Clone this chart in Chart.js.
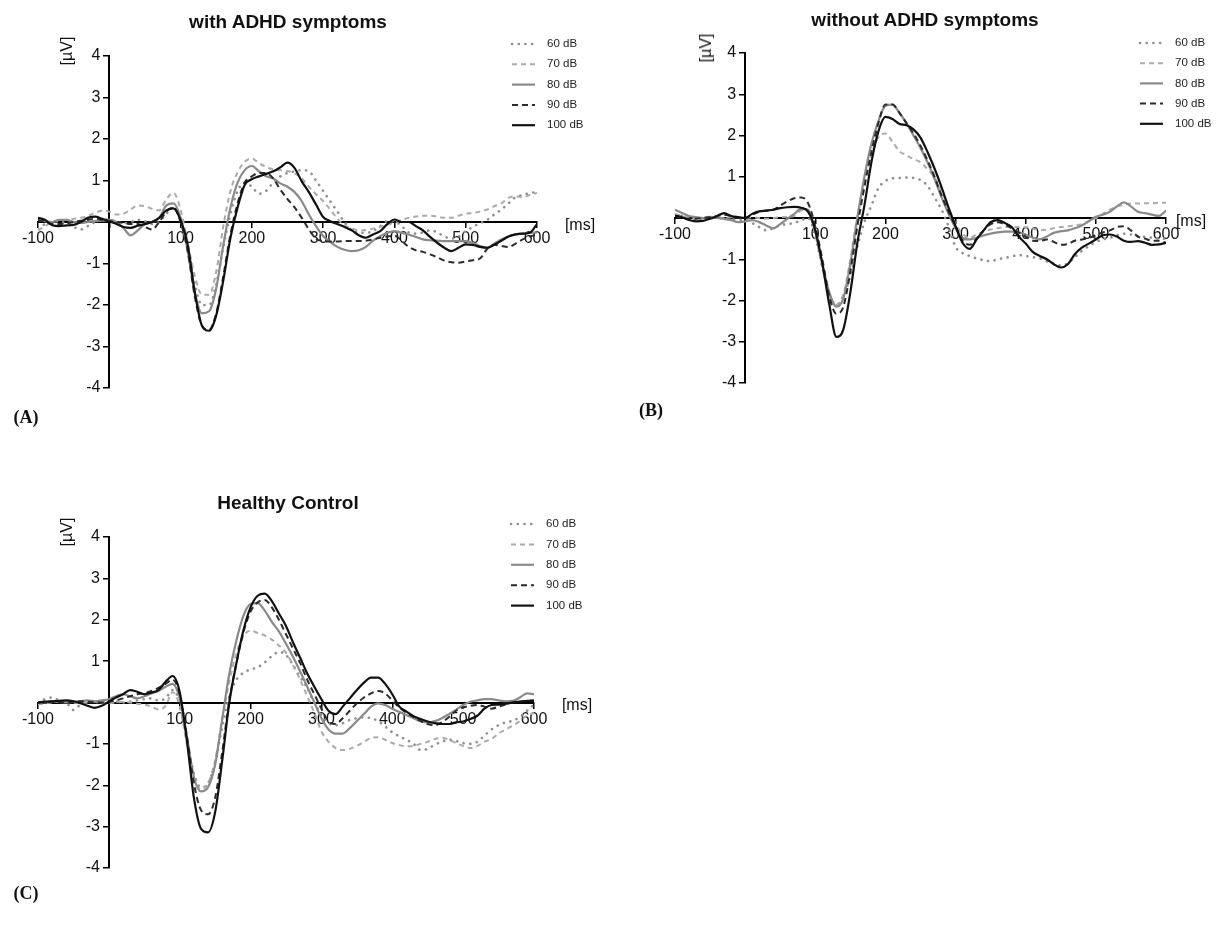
<!DOCTYPE html>
<html>
<head>
<meta charset="utf-8">
<script src="https://cdn.jsdelivr.net/npm/chart.js@4.4.1/dist/chart.umd.min.js"></script>
<style>
  html, body { margin: 0; padding: 0; background: #fff; }
  #page { position: relative; width: 1230px; height: 932px; overflow: hidden; font-family: "Liberation Sans", Arial, sans-serif; color: #111; }
  canvas { position: absolute; }
  .txt { position: absolute; transform: translate(-50%, -50%); white-space: nowrap; }
  .title { font-weight: bold; font-size: 19px; }
  .unit { font-size: 16px; }
  .uv { font-size: 16px; transform: translate(-50%, -50%) rotate(-90deg); }
  .panel { font-family: "Liberation Serif", "Times New Roman", serif; font-weight: bold; font-size: 18px; }
</style>
</head>
<body>
<div id="page">
  <canvas id="chartA" width="615" height="440" style="left:0;top:0"></canvas>
  <canvas id="chartB" width="615" height="440" style="left:615px;top:0"></canvas>
  <canvas id="chartC" width="615" height="440" style="left:0;top:470px"></canvas>

  <div class="txt title" style="left:288px;top:22px">with ADHD symptoms</div>
  <div class="txt title" style="left:925px;top:20px">without ADHD symptoms</div>
  <div class="txt title" style="left:288px;top:503px">Healthy Control</div>

  <div class="txt uv" style="left:67px;top:51px">[µV]</div>
  <div class="txt uv" style="left:706px;top:48px">[µV]</div>
  <div class="txt uv" style="left:67px;top:532px">[µV]</div>

  <div class="txt unit" style="left:580px;top:225px">[ms]</div>
  <div class="txt unit" style="left:1191px;top:221px">[ms]</div>
  <div class="txt unit" style="left:577px;top:705px">[ms]</div>

  <div class="txt panel" style="left:26px;top:417px">(A)</div>
  <div class="txt panel" style="left:651px;top:410px">(B)</div>
  <div class="txt panel" style="left:26px;top:893px">(C)</div>
</div>

<script>
// =============================================================================
// Data (µV), sampled every 10 ms from -100 to 600 ms
// =============================================================================

const times = [];
for (let t = -100; t <= 600; t += 10) times.push(t);

const levels = ['60 dB', '70 dB', '80 dB', '90 dB', '100 dB'];

// (A) with ADHD symptoms
const adhd60 = [-0.15,-0.05,0.0,0.02,-0.05,-0.12,-0.18,-0.1,0.0,0.06,
  0.05,0.0,-0.03,0.0,0.05,0.02,-0.05,0.0,0.2,0.35,
  0.05,-0.6,-1.5,-2.0,-2.0,-1.5,-0.6,0.2,0.75,0.95,
  0.85,0.68,0.75,0.95,1.1,1.18,1.22,1.25,1.22,1.0,
  0.75,0.5,0.25,0.0,-0.2,-0.25,-0.26,-0.22,-0.1,0.02,
  0.02,-0.1,-0.25,-0.28,-0.25,-0.2,-0.25,-0.35,-0.4,-0.35,
  -0.22,-0.12,-0.03,0.05,0.18,0.3,0.45,0.6,0.65,0.7,
  0.72];
const adhd70 = [-0.2,-0.1,0.0,0.05,0.05,0.08,0.1,0.15,0.22,0.27,
  0.25,0.18,0.2,0.3,0.4,0.38,0.32,0.28,0.55,0.7,
  0.3,-0.5,-1.3,-1.75,-1.75,-1.2,-0.1,0.75,1.2,1.45,
  1.53,1.42,1.32,1.27,1.25,1.23,1.17,1.05,0.85,0.67,
  0.5,0.3,0.08,-0.08,-0.15,-0.2,-0.2,-0.16,-0.12,-0.06,
  -0.02,0.05,0.1,0.13,0.15,0.15,0.13,0.1,0.1,0.15,
  0.2,0.22,0.25,0.3,0.38,0.45,0.58,0.62,0.6,0.65,
  0.7];
const adhd80 = [0.05,0.02,0.0,0.05,0.05,0.0,-0.02,0.0,0.02,0.03,
  0.05,0.0,-0.15,-0.32,-0.2,-0.05,0.0,0.1,0.4,0.45,
  0.1,-0.7,-1.7,-2.2,-2.15,-1.6,-0.55,0.35,0.95,1.25,
  1.35,1.22,1.1,1.05,0.93,0.85,0.72,0.5,0.18,-0.1,
  -0.34,-0.48,-0.6,-0.67,-0.7,-0.68,-0.6,-0.45,-0.34,-0.26,
  -0.22,-0.26,-0.3,-0.36,-0.42,-0.44,-0.45,-0.46,-0.46,-0.46,
  -0.46,-0.5,-0.58,-0.62,-0.52,-0.42,-0.35,-0.3,-0.28,-0.26,
  -0.25];
const adhd90 = [0.05,0.0,-0.05,-0.05,-0.03,0.0,0.03,0.05,0.08,0.05,
  0.02,0.0,-0.02,-0.05,-0.05,-0.12,-0.18,0.0,0.25,0.35,
  0.0,-0.7,-1.8,-2.5,-2.6,-2.2,-1.3,-0.3,0.45,0.95,
  1.1,1.18,1.18,1.05,0.78,0.55,0.35,0.1,-0.18,-0.4,
  -0.46,-0.47,-0.47,-0.46,-0.46,-0.46,-0.45,-0.42,-0.38,-0.35,
  -0.33,-0.45,-0.6,-0.68,-0.72,-0.78,-0.85,-0.93,-0.97,-0.98,
  -0.95,-0.92,-0.88,-0.65,-0.55,-0.58,-0.6,-0.52,-0.42,-0.35,
  -0.3];
const adhd100 = [0.1,0.05,-0.08,-0.1,-0.08,-0.07,0.0,0.1,0.13,0.08,
  0.02,-0.05,-0.12,-0.14,-0.09,-0.05,0.0,0.1,0.28,0.33,
  0.05,-0.55,-1.7,-2.5,-2.62,-2.25,-1.4,-0.38,0.35,0.9,
  1.03,1.1,1.16,1.22,1.32,1.43,1.3,0.98,0.72,0.42,
  0.12,0.02,-0.05,-0.12,-0.2,-0.32,-0.38,-0.3,-0.22,-0.05,
  0.06,0.0,0.0,-0.1,-0.2,-0.36,-0.5,-0.62,-0.7,-0.62,
  -0.54,-0.55,-0.6,-0.62,-0.55,-0.45,-0.35,-0.3,-0.28,-0.26,
  -0.05];

// (B) without ADHD symptoms
const noAdhd60 = [0.08,0.05,0.0,-0.05,0.0,0.03,0.0,0.0,-0.02,-0.05,
  -0.05,-0.12,-0.22,-0.3,-0.25,-0.18,-0.15,-0.12,-0.05,0.0,
  -0.45,-1.2,-1.85,-2.1,-1.9,-1.4,-0.7,-0.1,0.3,0.72,
  0.9,0.96,0.97,0.98,0.97,0.92,0.78,0.5,0.2,-0.2,
  -0.7,-0.85,-0.92,-0.98,-1.02,-1.05,-1.0,-0.97,-0.93,-0.9,
  -0.92,-0.95,-0.98,-1.05,-1.1,-1.15,-1.1,-0.95,-0.8,-0.68,
  -0.58,-0.52,-0.48,-0.42,-0.38,-0.4,-0.44,-0.46,-0.48,-0.5,
  -0.5];
const noAdhd70 = [0.1,0.05,0.0,-0.02,0.0,0.02,0.0,0.0,0.02,0.0,
  0.0,0.02,0.0,-0.02,0.0,0.02,0.03,0.05,0.18,0.15,
  -0.4,-1.2,-1.85,-2.1,-1.85,-1.0,0.05,0.9,1.55,1.95,
  2.05,1.85,1.62,1.52,1.43,1.35,1.18,0.98,0.65,0.25,
  -0.15,-0.38,-0.48,-0.4,-0.33,-0.28,-0.25,-0.22,-0.22,-0.22,
  -0.22,-0.26,-0.3,-0.28,-0.25,-0.22,-0.2,-0.18,-0.15,-0.08,
  0.0,0.1,0.2,0.28,0.32,0.35,0.35,0.36,0.36,0.37,
  0.37];
const noAdhd80 = [0.2,0.12,0.05,0.02,0.0,0.03,0.0,-0.02,-0.05,-0.1,
  -0.08,-0.05,-0.1,-0.18,-0.25,-0.15,-0.02,0.1,0.22,0.2,
  -0.35,-1.1,-1.8,-2.15,-1.95,-1.1,0.0,1.0,1.8,2.35,
  2.72,2.75,2.55,2.3,2.0,1.7,1.35,0.95,0.5,0.1,
  -0.25,-0.5,-0.52,-0.48,-0.42,-0.38,-0.35,-0.33,-0.33,-0.35,
  -0.4,-0.48,-0.52,-0.45,-0.36,-0.32,-0.3,-0.25,-0.18,-0.08,
  0.03,0.08,0.15,0.28,0.38,0.28,0.15,0.12,0.08,0.05,
  0.18];
const noAdhd90 = [0.05,0.0,-0.02,-0.02,0.0,0.02,0.05,0.08,0.05,0.0,
  0.0,0.08,0.15,0.18,0.2,0.3,0.4,0.48,0.5,0.35,
  -0.2,-1.0,-1.9,-2.32,-2.15,-1.3,-0.2,0.75,1.6,2.3,
  2.75,2.75,2.55,2.3,2.05,1.75,1.4,1.0,0.55,0.15,
  -0.2,-0.55,-0.65,-0.5,-0.3,-0.15,-0.1,-0.15,-0.25,-0.35,
  -0.45,-0.55,-0.56,-0.52,-0.58,-0.65,-0.63,-0.55,-0.52,-0.48,
  -0.42,-0.35,-0.3,-0.22,-0.2,-0.3,-0.45,-0.5,-0.55,-0.55,
  -0.6];
const noAdhd100 = [0.06,0.02,-0.05,-0.08,-0.07,-0.02,0.05,0.12,0.05,0.02,
  0.0,0.1,0.16,0.18,0.2,0.24,0.26,0.27,0.25,0.15,
  -0.3,-1.1,-2.1,-2.88,-2.7,-1.8,-0.6,0.3,1.35,2.1,
  2.45,2.4,2.28,2.25,2.15,1.95,1.6,1.2,0.75,0.25,
  -0.2,-0.6,-0.75,-0.52,-0.3,-0.1,-0.05,-0.12,-0.22,-0.45,
  -0.62,-0.82,-0.92,-1.0,-1.12,-1.2,-1.12,-0.88,-0.72,-0.62,
  -0.52,-0.42,-0.4,-0.45,-0.55,-0.58,-0.56,-0.6,-0.65,-0.64,
  -0.6];

// (C) Healthy Control
const control60 = [0.0,0.08,0.12,0.05,0.0,-0.18,-0.05,0.02,0.0,0.03,
  0.05,0.02,0.0,0.02,0.05,0.08,0.1,0.05,0.1,0.3,
  0.0,-0.9,-1.7,-2.05,-1.95,-1.45,-0.6,0.15,0.55,0.72,
  0.8,0.85,0.97,1.12,1.22,1.15,0.9,0.62,0.35,0.0,
  -0.3,-0.5,-0.55,-0.5,-0.42,-0.38,-0.36,-0.38,-0.45,-0.58,
  -0.72,-0.82,-0.9,-1.0,-1.15,-1.12,-1.02,-0.95,-0.9,-0.93,
  -0.98,-1.0,-0.95,-0.8,-0.65,-0.55,-0.48,-0.44,-0.35,-0.2,
  -0.05];
const control70 = [-0.05,-0.02,0.0,0.02,0.03,0.0,-0.02,0.0,0.02,0.0,
  -0.02,0.0,0.02,0.0,-0.03,-0.05,-0.1,-0.17,-0.08,0.25,
  -0.1,-1.0,-1.8,-2.1,-1.95,-1.4,-0.4,0.5,1.2,1.6,
  1.74,1.68,1.62,1.52,1.38,1.2,0.9,0.55,0.15,-0.25,
  -0.7,-0.95,-1.1,-1.15,-1.12,-1.05,-0.95,-0.86,-0.84,-0.9,
  -0.98,-1.03,-1.06,-1.05,-1.0,-0.95,-0.88,-0.86,-0.9,-0.98,
  -1.05,-1.1,-1.05,-0.95,-0.88,-0.75,-0.65,-0.56,-0.45,-0.32,
  -0.25];
const control80 = [0.0,0.0,0.02,0.02,0.0,0.02,0.03,0.05,0.03,0.05,
  0.08,0.15,0.2,0.15,0.1,0.15,0.22,0.28,0.38,0.45,
  0.1,-0.8,-1.8,-2.15,-2.05,-1.5,-0.4,0.7,1.5,2.1,
  2.38,2.4,2.22,1.95,1.72,1.42,1.1,0.75,0.38,0.0,
  -0.38,-0.65,-0.75,-0.75,-0.62,-0.45,-0.28,-0.1,-0.02,-0.06,
  -0.15,-0.23,-0.3,-0.38,-0.45,-0.48,-0.45,-0.38,-0.28,-0.18,
  -0.06,0.02,0.05,0.08,0.08,0.05,0.03,0.04,0.12,0.22,
  0.2];
const control90 = [0.0,0.0,0.02,0.0,0.0,0.02,0.03,0.02,0.0,0.0,
  0.02,0.05,0.1,0.15,0.2,0.22,0.28,0.35,0.45,0.55,
  0.2,-0.8,-1.95,-2.6,-2.7,-2.3,-1.2,0.05,0.95,1.7,
  2.2,2.42,2.48,2.3,2.0,1.65,1.3,0.95,0.55,0.2,
  -0.15,-0.45,-0.52,-0.38,-0.2,-0.02,0.12,0.22,0.28,0.22,
  0.05,-0.12,-0.25,-0.35,-0.45,-0.52,-0.55,-0.48,-0.35,-0.2,
  -0.12,-0.08,-0.06,-0.1,-0.15,-0.1,-0.05,0.0,0.02,0.04,
  0.05];
const control100 = [0.0,0.02,0.03,0.04,0.05,0.03,-0.02,-0.08,-0.13,-0.08,
  0.02,0.12,0.2,0.3,0.26,0.2,0.24,0.3,0.5,0.64,
  0.25,-0.9,-2.3,-3.05,-3.14,-2.65,-1.4,0.0,0.95,1.75,
  2.3,2.58,2.63,2.45,2.15,1.85,1.45,1.08,0.7,0.38,
  0.08,-0.2,-0.28,-0.1,0.1,0.3,0.48,0.6,0.6,0.45,
  0.2,-0.1,-0.22,-0.33,-0.4,-0.46,-0.5,-0.52,-0.52,-0.48,
  -0.46,-0.4,-0.32,-0.15,-0.06,-0.05,-0.03,0.0,0.02,0.04,
  0.04];

// =============================================================================
// Line styles per stimulus level
// =============================================================================

const LINE_STYLES = [
  { color: '#8f8f8f', width: 2.6, dash: [0.1, 6.6], cap: 'round', order: 5 }, // 60 dB dotted
  { color: '#ababab', width: 2, dash: [5, 4], cap: 'butt', order: 4 },        // 70 dB dashed
  { color: '#8a8a8a', width: 2.2, dash: [], cap: 'butt', order: 3 },          // 80 dB solid
  { color: '#2b2b2b', width: 2, dash: [6, 4], cap: 'butt', order: 2 },        // 90 dB dashed
  { color: '#111111', width: 2.2, dash: [], cap: 'butt', order: 1 }           // 100 dB solid
];

/**
 * Build one dataset from a series of values
 */
function createDataset(label, values, style) {
  return {
    label,
    data: values.map((v, i) => ({ x: times[i], y: v })),
    borderColor: style.color,
    borderWidth: style.width,
    borderDash: style.dash,
    borderCapStyle: style.cap,
    order: style.order,
    pointRadius: 0,
    fill: false,
    cubicInterpolationMode: 'monotone'
  };
}

// Legend at the top right, drawn with the dataset styles
const sideLegend = {
  id: 'sideLegend',
  afterDraw(chart, args, opts) {
    const { ctx } = chart;
    ctx.save();
    chart.data.datasets.forEach((ds, i) => {
      const y = opts.y + i * opts.gap;
      ctx.strokeStyle = ds.borderColor;
      ctx.lineWidth = ds.borderWidth;
      ctx.lineCap = ds.borderCapStyle;
      ctx.setLineDash(ds.borderDash);
      ctx.beginPath();
      ctx.moveTo(opts.x, y);
      ctx.lineTo(opts.x + 23, y);
      ctx.stroke();
      ctx.setLineDash([]);
      ctx.fillStyle = '#222';
      ctx.font = '11.5px "Liberation Sans", Arial, sans-serif';
      ctx.textBaseline = 'middle';
      ctx.fillText(ds.label, opts.x + 35, y);
    });
    ctx.restore();
  }
};

/**
 * Axes cross at (0, 0); the zero labels are hidden.
 * A y axis placed at a data value gets its labels right-aligned on the
 * axis line itself, so two trailing spaces keep them clear of the ticks.
 */
function buildOptions(padding, legendPos) {
  const tickFont = { family: '"Liberation Sans", Arial, sans-serif', size: 16 };
  return {
    responsive: false,
    animation: false,
    layout: { padding },
    plugins: {
      legend: { display: false },
      tooltip: { enabled: false },
      sideLegend: legendPos
    },
    scales: {
      x: {
        type: 'linear',
        min: -100,
        max: 600,
        position: { y: 0 },
        border: { display: true, color: '#000', width: 2 },
        grid: { drawOnChartArea: false, drawTicks: true, tickLength: 5, color: '#000', lineWidth: 1.5 },
        ticks: { stepSize: 100, color: '#111', font: tickFont, padding: 2, maxRotation: 0,
          callback: v => (v === 0 ? '' : String(v)) }
      },
      y: {
        type: 'linear',
        min: -4,
        max: 4,
        position: { x: 0 },
        border: { display: true, color: '#000', width: 2 },
        grid: { drawOnChartArea: false, drawTicks: true, tickLength: 5, color: '#000', lineWidth: 1.5 },
        ticks: { stepSize: 1, color: '#111', font: tickFont,
          callback: v => (v === 0 ? '' : v + '  ') }
      }
    }
  };
}

function makeChart(canvasId, series, padding, legendPos) {
  const datasets = series.map((vals, i) => createDataset(levels[i], vals, LINE_STYLES[i]));
  return new Chart(document.getElementById(canvasId), {
    type: 'line',
    data: { datasets },
    options: buildOptions(padding, legendPos),
    plugins: [sideLegend]
  });
}

makeChart('chartA', [adhd60, adhd70, adhd80, adhd90, adhd100],
  { left: 38, right: 78, top: 56, bottom: 52 }, { x: 512, y: 44, gap: 20.3 });
makeChart('chartB', [noAdhd60, noAdhd70, noAdhd80, noAdhd90, noAdhd100],
  { left: 60, right: 64, top: 53, bottom: 57 }, { x: 525, y: 43, gap: 20.2 });
makeChart('chartC', [control60, control70, control80, control90, control100],
  { left: 38, right: 81, top: 67, bottom: 42 }, { x: 511, y: 54, gap: 20.4 });
</script>
</body>
</html>
